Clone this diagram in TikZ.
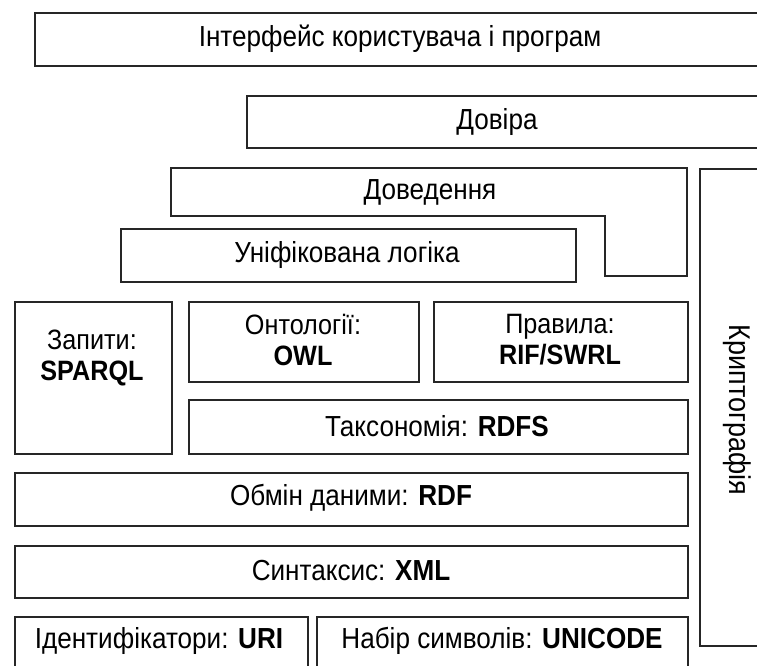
\documentclass[tikz,border=0pt]{standalone}
\usepackage{fontspec}
\setmainfont{Liberation Sans}[FakeStretch=0.9]
\begin{document}
\begin{tikzpicture}[x=1pt,y=-1pt,
  box/.style={draw=black!85, line width=1.8pt, rectangle, inner sep=0pt, anchor=north west},
  lbl/.style={inner sep=0pt, font=\fontsize{29}{33}\selectfont},
  twoline/.style={align=center, font=\fontsize{28}{31}\selectfont}]
\useasboundingbox (0,0) rectangle (757,666);
\clip (0,0) rectangle (757,666);
% Interface
\node[box, minimum width=760, minimum height=53] (ui) at (34,12) {};
\node[lbl] (uit) at (400,39) {Інтерфейс користувача і програм};
% Trust
\node[box, minimum width=540, minimum height=52] (trust) at (246,95) {};
\node[lbl] (trustt) at (497,122) {Довіра};
% Proof (L-shape)
\draw[draw=black!85, line width=1.8pt] (171,168) -- (687,168) -- (687,276) -- (605,276) -- (605,216) -- (171,216) -- cycle;
\node[lbl] (proof) at (430,192) {Доведення};
% Unified logic
\node[box, minimum width=455, minimum height=53] (logic) at (120,228) {};
\node[lbl] (logict) at (347,255) {Уніфікована логіка};
% Crypto
\node[box, minimum width=80, minimum height=477] (crypto) at (699,168) {};
\node[lbl, rotate=-90, font=\fontsize{30}{34}\selectfont] (cryptot) at (737,410) {Криптографія};
% Queries
\node[box, minimum width=157, minimum height=152] (q) at (14,301) {};
\node[twoline] (qt) at (92,358) {Запити:\\\textbf{SPARQL}};
% Ontologies
\node[box, minimum width=230, minimum height=80] (ont) at (188,301) {};
\node[twoline] (ontt) at (303,340) {Онтології:\\\textbf{OWL}};
% Rules
\node[box, minimum width=254, minimum height=80] (rules) at (433,301) {};
\node[twoline] (rulest) at (560,340) {Правила:\\\textbf{RIF/SWRL}};
% Taxonomy
\node[box, minimum width=499, minimum height=54] (tax) at (188,399) {};
\node[lbl] (taxt) at (437,426) {Таксономія: \textbf{RDFS}};
% RDF
\node[box, minimum width=673, minimum height=53] (rdf) at (14,472) {};
\node[lbl] (rdft) at (351,498) {Обмін даними: \textbf{RDF}};
% XML
\node[box, minimum width=673, minimum height=52] (xml) at (14,545) {};
\node[lbl] (xmlt) at (351,571) {Синтаксис: \textbf{XML}};
% URI
\node[box, minimum width=293, minimum height=60] (uri) at (14,616) {};
\node[lbl] (urit) at (159,641) {Ідентифікатори: \textbf{URI}};
% Unicode
\node[box, minimum width=371, minimum height=60] (uni) at (316,616) {};
\node[lbl] (unit) at (502,641) {Набір символів: \textbf{UNICODE}};
\end{tikzpicture}
\end{document}
